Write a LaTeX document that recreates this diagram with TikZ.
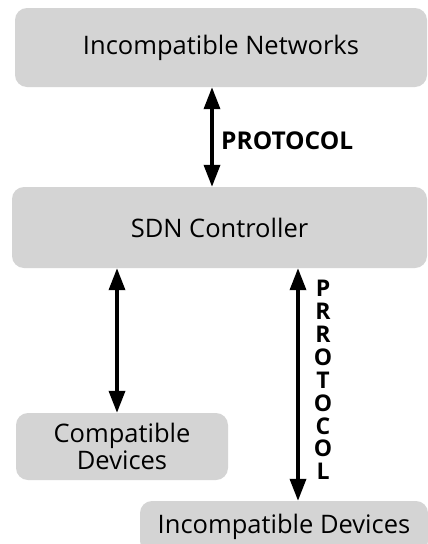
\documentclass[tikz,border=0pt]{standalone}
\usepackage{fontspec}
\setmainfont{Open Sans}
\usetikzlibrary{arrows.meta}
\definecolor{boxgray}{HTML}{D4D4D4}
\tikzset{
  box/.style={fill=boxgray, rounded corners=12pt, inner sep=0pt, align=center,
    font=\fontsize{25.5}{27}\selectfont},
  tip/.tip={Triangle[width=16pt,length=22pt]},
  link/.style={line width=3.5pt, tip-tip},
  tag/.style={font=\bfseries\fontsize{24.5}{26}\selectfont, inner sep=0pt},
  vtag/.style={font=\bfseries\fontsize{23}{22.9}\selectfont, inner sep=0pt, align=center}
}
\begin{document}
\begin{tikzpicture}[x=1pt,y=-1pt]
  \clip (0,0) rectangle (428,544);
  \fill[white] (0,0) rectangle (428,544);

  % grey rounded boxes
  \node[box, minimum width=412pt, minimum height=79pt] (top) at (221,47.5) {Incompatible Networks};
  \node[box, minimum width=415pt, minimum height=81pt] (ctrl) at (219.5,227.5) {SDN Controller};
  \node[box, minimum width=212pt, minimum height=67pt] (comp) at (122,446.5) {Compatible\\Devices};
  \node[box, minimum width=288pt, minimum height=52pt] (incomp) at (284,527) {Incompatible Devices};

  % x positions of the vertical links
  \coordinate (xa) at (212,0);
  \coordinate (xb) at (117,0);
  \coordinate (xc) at (298,0);

  \draw[link] (top.south -| xa) -- (ctrl.north -| xa);
  \draw[link] (ctrl.south -| xb) -- (comp.north -| xb);
  \draw[link] (ctrl.south -| xc) -- (incomp.north -| xc);

  % link labels
  \node[tag, anchor=base west] (p1) at (221,149) {PROTOCOL};
  \node[vtag, anchor=north] (p2) at (323,280) {P\\R\\R\\O\\T\\O\\C\\O\\L};
\end{tikzpicture}
\end{document}
